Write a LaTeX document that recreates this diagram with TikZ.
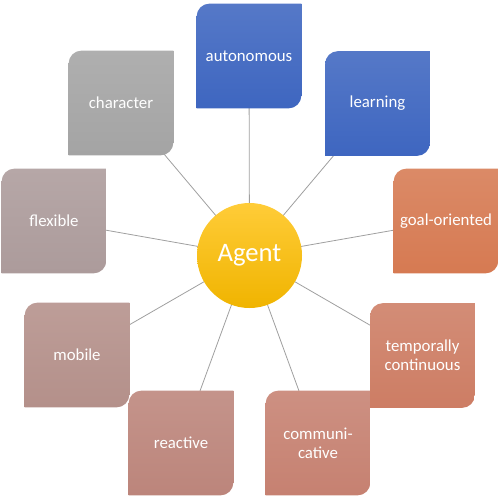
\documentclass[tikz,border=0pt]{standalone}
\usepackage{fontspec}
\setmainfont{Carlito}
\usetikzlibrary{backgrounds}

\definecolor{agentTop}{RGB}{255,204,56}
\definecolor{agentBot}{RGB}{240,180,0}
\definecolor{cBlue}{RGB}{62,102,192}
\definecolor{cGoal}{RGB}{214,122,82}
\definecolor{cTemp}{RGB}{205,125,100}
\definecolor{cComm}{RGB}{198,129,113}
\definecolor{cReact}{RGB}{188,133,123}
\definecolor{cMobile}{RGB}{180,144,138}
\definecolor{cFlex}{RGB}{172,155,155}
\definecolor{cChar}{RGB}{164,164,164}

\tikzset{
  leaf/.style={minimum width=78.5pt, minimum height=78.5pt, inner sep=0pt,
    text=white, font=\fontsize{12.6}{14.5}\selectfont, align=center,
    path picture={
      \shade[top color=#1!88!white, bottom color=#1]
        (path picture bounding box.south west)
        -- ([yshift=-9.5pt]path picture bounding box.north west)
        .. controls ([yshift=-4.25pt]path picture bounding box.north west)
           and ([xshift=4.25pt]path picture bounding box.north west)
        .. ([xshift=9.5pt]path picture bounding box.north west)
        -- (path picture bounding box.north east)
        -- ([yshift=9.5pt]path picture bounding box.south east)
        .. controls ([yshift=4.25pt]path picture bounding box.south east)
           and ([xshift=-4.25pt]path picture bounding box.south east)
        .. ([xshift=-9.5pt]path picture bounding box.south east)
        -- cycle;
    }},
  spoke/.style={draw=gray!75, line width=0.6pt}
}

\begin{document}
\begin{tikzpicture}[x=0.75pt,y=-0.75pt]
    \useasboundingbox (0,0) rectangle (500,496);
    % centre
    \node[circle, minimum size=78.75pt, inner sep=0pt, top color=agentTop, bottom color=agentBot,
          text=white, font=\fontsize{20}{23}\selectfont] (agent) at (249.5,255.5) {Agent};
    % the nine properties
    \node[leaf=cBlue]   (auto)   at (249,56)      {autonomous};
    \node[leaf=cBlue]   (learn)  at (377.5,103.5) {learning};
    \node[leaf=cGoal]   (goal)   at (446,221)     {goal-oriented};
    \node[leaf=cTemp]   (temp)   at (422.5,355.5) {temporally\\continuous};
    \node[leaf=cComm]   (comm)   at (318,443)     {communi-\\cative};
    \node[leaf=cReact]  (react)  at (181,443)     {reactive};
    \node[leaf=cMobile] (mobile) at (77,355)      {mobile};
    \node[leaf=cFlex]   (flex)   at (54,221)      {flexible};
    \node[leaf=cChar]   (char)   at (121,103)     {character};
    \begin{pgfonlayer}{background}
        \foreach \n in {auto,learn,goal,temp,comm,react,mobile,flex,char}{
          \draw[spoke] (agent.center) -- (\n.center);
          }
    \end{pgfonlayer}
\end{tikzpicture}
\end{document}
